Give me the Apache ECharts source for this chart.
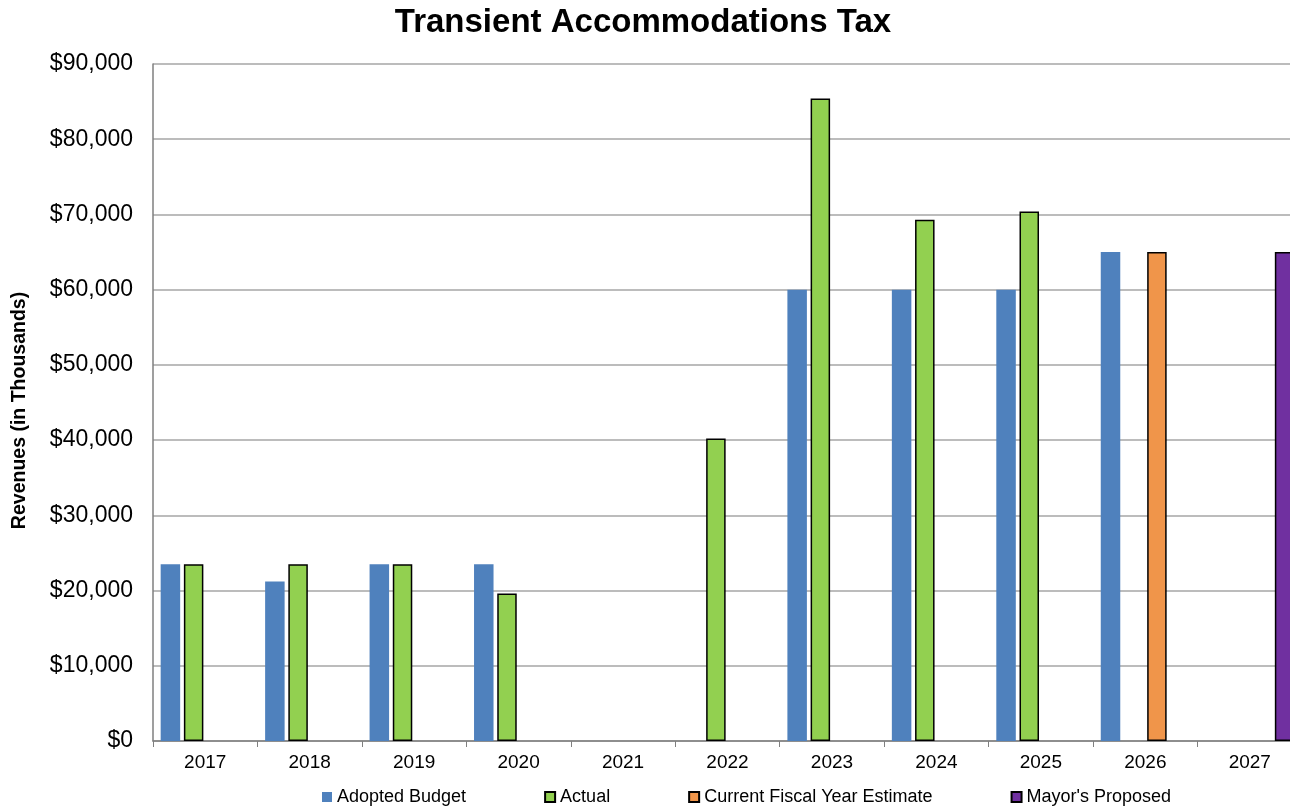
<!DOCTYPE html>
<html>
<head>
<meta charset="utf-8">
<title>Transient Accommodations Tax</title>
<script src="https://cdn.jsdelivr.net/npm/echarts@6/dist/echarts.min.js"></script>
<style>
    html, body { margin: 0; padding: 0; background: #fff; }
    #chart { width: 1290px; height: 807px; }
</style>
</head>
<body>
<div id="chart"></div>
<script>
const years = ['2017', '2018', '2019', '2020', '2021', '2022', '2023', '2024', '2025', '2026', '2027'];
const adoptedBudget = [23500, 21200, 23500, 23500, null, null, 60000, 60000, 60000, 65000, null];
const actual = [23500, 23500, 23500, 19600, null, 40200, 85400, 69300, 70400, null, null];
const currentEstimate = [null, null, null, null, null, null, null, null, null, 65000, null];
const mayorsProposed = [null, null, null, null, null, null, null, null, null, null, 65000];

const chart = echarts.init(document.getElementById('chart'));

const font = 'Liberation Sans, Arial, sans-serif';

const makeBar = (name, data, color, outlined) => ({
    name: name,
    type: 'bar',
    data: data,
    barWidth: 19.5,
    barGap: '19%',
    itemStyle: {
        color: color,
        borderColor: outlined ? '#000' : color,
        borderWidth: outlined ? 1.5 : 0
    },
    emphasis: { disabled: true }
});

chart.setOption({
    backgroundColor: '#fff',
    animation: false,
    title: {
        text: 'Transient Accommodations Tax',
        left: 638,
        textAlign: 'center',
        top: 1,
        textStyle: {
            fontFamily: font,
            fontSize: 33,
            fontWeight: 'bold',
            color: '#000'
        }
    },
    legend: {
        left: 317,
        top: 783,
        itemWidth: 10,
        itemHeight: 10,
        itemGap: 78,
        icon: 'rect',
        textStyle: {
            fontFamily: font,
            fontSize: 18,
            color: '#000'
        },
        data: ['Adopted Budget', 'Actual', 'Current Fiscal Year Estimate', "Mayor's Proposed"]
    },
    grid: {
        left: 153,
        top: 64,
        width: 1149,
        height: 677,
        outerBoundsMode: 'none'
    },
    xAxis: {
        type: 'category',
        data: years,
        axisLine: { lineStyle: { color: '#7f7f7f', width: 1.5 } },
        axisTick: { show: true, length: 6, interval: 0, lineStyle: { color: '#7f7f7f' } },
        axisLabel: {
            fontFamily: font,
            fontSize: 19,
            color: '#000',
            margin: 12
        }
    },
    yAxis: {
        type: 'value',
        min: 0,
        max: 90000,
        interval: 10000,
        name: 'Revenues (in Thousands)',
        nameLocation: 'middle',
        nameGap: 123,
        nameTextStyle: {
            fontFamily: font,
            fontSize: 19.5,
            fontWeight: 'bold',
            color: '#000',
            padding: [0, 16, 0, 0]
        },
        axisLine: { show: true, lineStyle: { color: '#7f7f7f', width: 1.5 } },
        axisTick: { show: false },
        splitLine: { lineStyle: { color: '#a6a6a6', width: 1.5 } },
        axisLabel: {
            fontFamily: font,
            fontSize: 23,
            color: '#000',
            margin: 20,
            formatter: v => '$' + v.toLocaleString('en-US')
        }
    },
    series: [
        makeBar('Adopted Budget', adoptedBudget, '#4f81bd', false),
        makeBar('Actual', actual, '#92d050', true),
        makeBar('Current Fiscal Year Estimate', currentEstimate, '#f0954a', true),
        makeBar("Mayor's Proposed", mayorsProposed, '#7030a0', true)
    ]
});

window.addEventListener('resize', function () {
    chart.resize();
});
</script>
</body>
</html>
